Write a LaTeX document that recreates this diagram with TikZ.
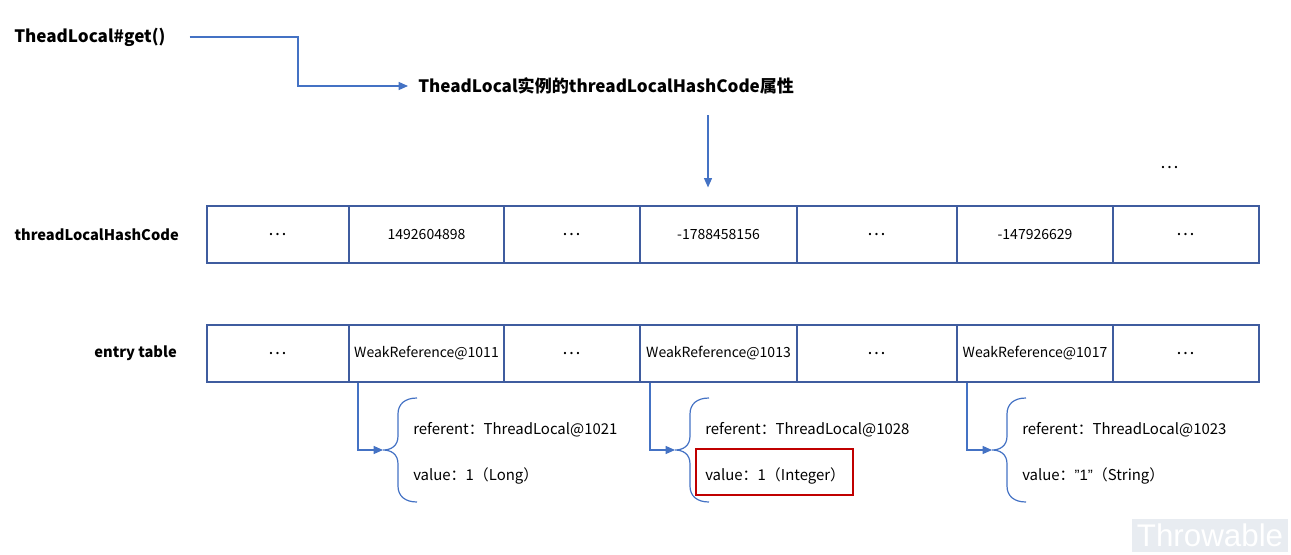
\documentclass[tikz,border=0pt]{standalone}
\usepackage{fontspec}
\setmainfont{Noto Sans CJK SC}
\newfontfamily\markfont{Liberation Sans}
\usetikzlibrary{arrows.meta,positioning,calc}
\definecolor{lblue}{HTML}{4472C4}
\definecolor{lblued}{HTML}{3F5C9F}
\definecolor{mred}{HTML}{C00000}
\definecolor{mgray}{HTML}{E8ECF1}
\newcommand\gap{{\fontsize{13}{13}\selectfont ⋯}}
\tikzset{
  % one slot of the two arrays
  cell/.style  = {rectangle, draw=lblued, line width=0.9pt, inner sep=0pt,
                  minimum height=42.75pt, font=\fontsize{10.5}{12}\selectfont},
  head/.style  = {font=\bfseries\fontsize{12.8}{14}\selectfont, inner sep=0pt},
  rowlbl/.style = {font=\bfseries\fontsize{11}{13}\selectfont, inner sep=0pt, anchor=east},
  txt/.style   = {font=\fontsize{11.2}{13}\selectfont, inner sep=0pt, anchor=west},
  link/.style  = {-{Triangle[length=7pt,width=6pt]}, lblue, line width=0.9pt},
  hl/.style    = {draw=mred, line width=2.2pt, minimum width=117.75pt, minimum height=34.5pt},
  pics/fieldbrace/.style = {code={
    \draw[lblue, line width=0.9pt] (34,-52) .. controls (22,-52) and (15,-46) .. (15,-36)
      -- (15,-14) .. controls (15,-4) and (8,0) .. (0,0)
      .. controls (8,0) and (15,4) .. (15,14) -- (15,36)
      .. controls (15,46) and (22,52) .. (34,52);}},
}

\begin{document}
\begin{tikzpicture}[x=0.75pt,y=-0.75pt]
\useasboundingbox (0,0) rectangle (1291,554);
% lookup
\node[head, anchor=west] (get) at (14,37) {TheadLocal\#get()};
\node[head, anchor=west] (attr) at (418,86) {TheadLocal实例的threadLocalHashCode属性};
\coordinate (bend) at (298,86);
\draw[link, shorten >=7.5pt] ([xshift=18pt]get.east) -| (bend) -- (attr.west);
\coordinate (src) at (708,115);
\node (more) at (1170,168) {\gap};
% arrays
\node[rowlbl] (hlbl) at (179,235) {threadLocalHashCode};
\node[rowlbl] (elbl) at (177,353) {entry table};
\foreach \n/\l/\r/\a/\b in {1/207/349/\gap/\gap,
    2/349/504/1492604898/WeakReference@1011,
    3/504/640/\gap/\gap,
    4/640/797/-1788458156/WeakReference@1013,
    5/797/957/\gap/\gap,
    6/957/1113/-147926629/WeakReference@1017,
    7/1113/1259/\gap/\gap}
  {\node[cell, minimum width={(\r-\l)*0.75pt}] (h\n) at ({(\l+\r)/2},234.5) {\a};
   \node[cell, minimum width={(\r-\l)*0.75pt}] (e\n) at ({(\l+\r)/2},353.5) {\b};}
\draw[link, shorten >=13.5pt] (src) -- (src |- h4.north);
% weak references
\foreach \n/\x/\id/\val in {2/358/1021/1（Long）, 4/650/1028/1（Integer）,
    6/967/1023/{\markfont”1”}（String）}
  {\coordinate (f\n) at (\x+25,450);
   \draw[link] (e\n.south -| \x,0) |- (f\n);
   \pic at (f\n) {fieldbrace};
   \node[txt] (r\n) at (\x+55,429.5) {referent：ThreadLocal@\id};
   \node[txt] (v\n) at (\x+55,475.5) {value：\val};}
\node[hl] (mark) at (774.5,472) {};
\node[fill=mgray, text=white, inner sep=0pt, minimum width=117pt, minimum height=24.75pt,
      font=\markfont\fontsize{23.5}{24}\selectfont] (wm) at (1210,535.5) {Throwable};
\end{tikzpicture}
\end{document}
